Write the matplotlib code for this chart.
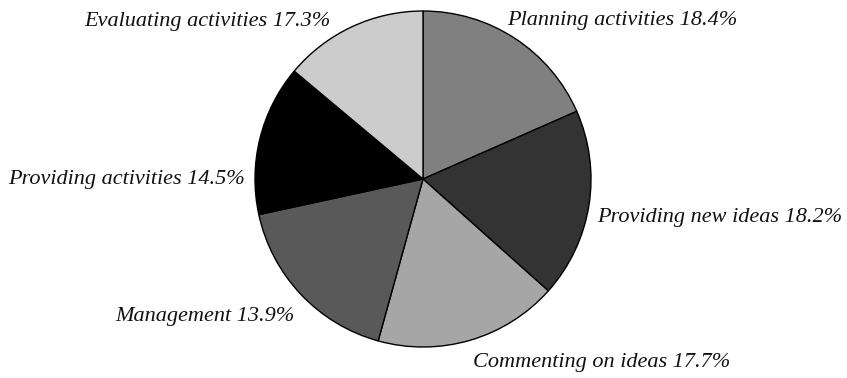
import matplotlib.pyplot as plt

# wedge sizes as drawn (clockwise from 12 o'clock)
categories = ['Planning activities', 'Providing new ideas', 'Commenting on ideas',
              'Management', 'Providing activities', 'Evaluating activities']
shares = [18.4, 18.2, 17.7, 17.3, 14.5, 13.9]
# percentages printed next to each wedge
printed_pct = ['18.4%', '18.2%', '17.7%', '13.9%', '14.5%', '17.3%']

colors = ['#808080', '#333333', '#a6a6a6', '#595959', '#000000', '#cccccc']

# label anchors (pie radius = 1) and horizontal alignment
label_pos = [(0.50, 0.946), (1.036, -0.232), (0.298, -1.095),
             (-0.762, -0.821), (-1.060, 0.0), (-0.553, 0.940)]
label_ha = ['left', 'left', 'left', 'right', 'right', 'right']

fig = plt.figure(figsize=(8.47, 3.78), dpi=100)
ax = fig.add_axes([0, 0, 1, 1])

ax.pie(shares, colors=colors, startangle=90, counterclock=False,
       wedgeprops=dict(edgecolor='black', linewidth=1.0))

for name, pct, (x, y), ha in zip(categories, printed_pct, label_pos, label_ha):
    ax.text(x, y, name + ' ' + pct, ha=ha, va='center', fontsize=16,
            family='Liberation Serif', style='italic', color='#111111')

r = 168.0
ax.set_xlim(-423 / r, (847 - 423) / r)
ax.set_ylim((179 - 378) / r, 179 / r)
ax.set_aspect('equal')
ax.axis('off')

fig.savefig('out.png', dpi=100)
